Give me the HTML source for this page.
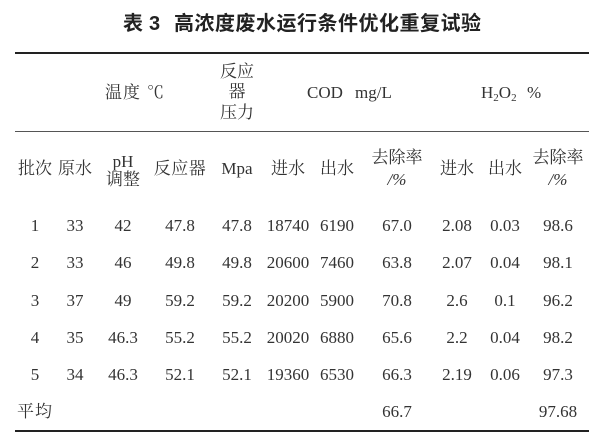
<!DOCTYPE html>
<html>
<head>
<meta charset="utf-8">
<style>
html,body{margin:0;padding:0;background:#fff;}
body{width:613px;height:448px;position:relative;overflow:hidden;
font-family:"Liberation Serif","Noto Serif CJK SC",serif;color:#333;font-size:17px;}
.t{position:absolute;top:14px;font-family:"Liberation Sans","Noto Sans CJK SC",sans-serif;font-weight:bold;font-size:20px;line-height:20px;color:#222;white-space:nowrap;}
.c{position:absolute;width:80px;height:20px;line-height:20px;text-align:center;white-space:nowrap;}
.l{position:absolute;height:20px;line-height:20px;white-space:nowrap;}
.hl{position:absolute;left:15px;width:574px;}
sub{font-size:11px;vertical-align:-3px;line-height:0;}
</style>
</head>
<body>
<div class="t" style="left:123px;">表</div>
<div class="t" style="left:149px;">3</div>
<div class="t" style="left:174px;letter-spacing:0.5px;">高浓度废水运行条件优化重复试验</div>

<div class="hl" style="top:52px;height:2px;background:#222;"></div>
<div class="hl" style="top:131px;height:1px;background:#555;"></div>
<div class="hl" style="top:430px;height:2px;background:#222;"></div>

<!-- header row 1 -->
<div class="l" style="left:105px;top:83px;letter-spacing:1px;">温度</div>
<div class="l" style="left:147px;top:83px;">℃</div>
<div class="c" style="left:197px;top:62px;">反应</div>
<div class="c" style="left:197px;top:82px;">器</div>
<div class="c" style="left:197px;top:103px;">压力</div>
<div class="l" style="left:307px;top:83px;">COD</div>
<div class="l" style="left:355px;top:83px;">mg/L</div>
<div class="l" style="left:481px;top:83px;">H<sub>2</sub>O<sub>2</sub></div>
<div class="l" style="left:527px;top:83px;">%</div>

<!-- header row 2 -->
<div class="c" style="left:-5px;top:159px;">批次</div>
<div class="c" style="left:35px;top:159px;">原水</div>
<div class="c" style="left:83px;top:152px;">pH</div>
<div class="c" style="left:83px;top:170px;">调整</div>
<div class="c" style="left:140px;top:159px;letter-spacing:0.5px;">反应器</div>
<div class="c" style="left:197px;top:159px;">Mpa</div>
<div class="c" style="left:248px;top:159px;">进水</div>
<div class="c" style="left:297px;top:159px;">出水</div>
<div class="c" style="left:357px;top:148px;">去除率</div>
<div class="c" style="left:357px;top:170px;font-style:italic;">/%</div>
<div class="c" style="left:417px;top:159px;">进水</div>
<div class="c" style="left:465px;top:159px;">出水</div>
<div class="c" style="left:518px;top:148px;">去除率</div>
<div class="c" style="left:518px;top:170px;font-style:italic;">/%</div>

<!-- row 1 -->
<div class="c" style="left:-5px;top:216px;">1</div>
<div class="c" style="left:35px;top:216px;">33</div>
<div class="c" style="left:83px;top:216px;">42</div>
<div class="c" style="left:140px;top:216px;">47.8</div>
<div class="c" style="left:197px;top:216px;">47.8</div>
<div class="c" style="left:248px;top:216px;">18740</div>
<div class="c" style="left:297px;top:216px;">6190</div>
<div class="c" style="left:357px;top:216px;">67.0</div>
<div class="c" style="left:417px;top:216px;">2.08</div>
<div class="c" style="left:465px;top:216px;">0.03</div>
<div class="c" style="left:518px;top:216px;">98.6</div>

<!-- row 2 -->
<div class="c" style="left:-5px;top:253px;">2</div>
<div class="c" style="left:35px;top:253px;">33</div>
<div class="c" style="left:83px;top:253px;">46</div>
<div class="c" style="left:140px;top:253px;">49.8</div>
<div class="c" style="left:197px;top:253px;">49.8</div>
<div class="c" style="left:248px;top:253px;">20600</div>
<div class="c" style="left:297px;top:253px;">7460</div>
<div class="c" style="left:357px;top:253px;">63.8</div>
<div class="c" style="left:417px;top:253px;">2.07</div>
<div class="c" style="left:465px;top:253px;">0.04</div>
<div class="c" style="left:518px;top:253px;">98.1</div>

<!-- row 3 -->
<div class="c" style="left:-5px;top:291px;">3</div>
<div class="c" style="left:35px;top:291px;">37</div>
<div class="c" style="left:83px;top:291px;">49</div>
<div class="c" style="left:140px;top:291px;">59.2</div>
<div class="c" style="left:197px;top:291px;">59.2</div>
<div class="c" style="left:248px;top:291px;">20200</div>
<div class="c" style="left:297px;top:291px;">5900</div>
<div class="c" style="left:357px;top:291px;">70.8</div>
<div class="c" style="left:417px;top:291px;">2.6</div>
<div class="c" style="left:465px;top:291px;">0.1</div>
<div class="c" style="left:518px;top:291px;">96.2</div>

<!-- row 4 -->
<div class="c" style="left:-5px;top:328px;">4</div>
<div class="c" style="left:35px;top:328px;">35</div>
<div class="c" style="left:83px;top:328px;">46.3</div>
<div class="c" style="left:140px;top:328px;">55.2</div>
<div class="c" style="left:197px;top:328px;">55.2</div>
<div class="c" style="left:248px;top:328px;">20020</div>
<div class="c" style="left:297px;top:328px;">6880</div>
<div class="c" style="left:357px;top:328px;">65.6</div>
<div class="c" style="left:417px;top:328px;">2.2</div>
<div class="c" style="left:465px;top:328px;">0.04</div>
<div class="c" style="left:518px;top:328px;">98.2</div>

<!-- row 5 -->
<div class="c" style="left:-5px;top:365px;">5</div>
<div class="c" style="left:35px;top:365px;">34</div>
<div class="c" style="left:83px;top:365px;">46.3</div>
<div class="c" style="left:140px;top:365px;">52.1</div>
<div class="c" style="left:197px;top:365px;">52.1</div>
<div class="c" style="left:248px;top:365px;">19360</div>
<div class="c" style="left:297px;top:365px;">6530</div>
<div class="c" style="left:357px;top:365px;">66.3</div>
<div class="c" style="left:417px;top:365px;">2.19</div>
<div class="c" style="left:465px;top:365px;">0.06</div>
<div class="c" style="left:518px;top:365px;">97.3</div>

<!-- average -->
<div class="l" style="left:17px;top:402px;letter-spacing:1px;">平均</div>
<div class="c" style="left:357px;top:402px;">66.7</div>
<div class="c" style="left:518px;top:402px;">97.68</div>
</body>
</html>
